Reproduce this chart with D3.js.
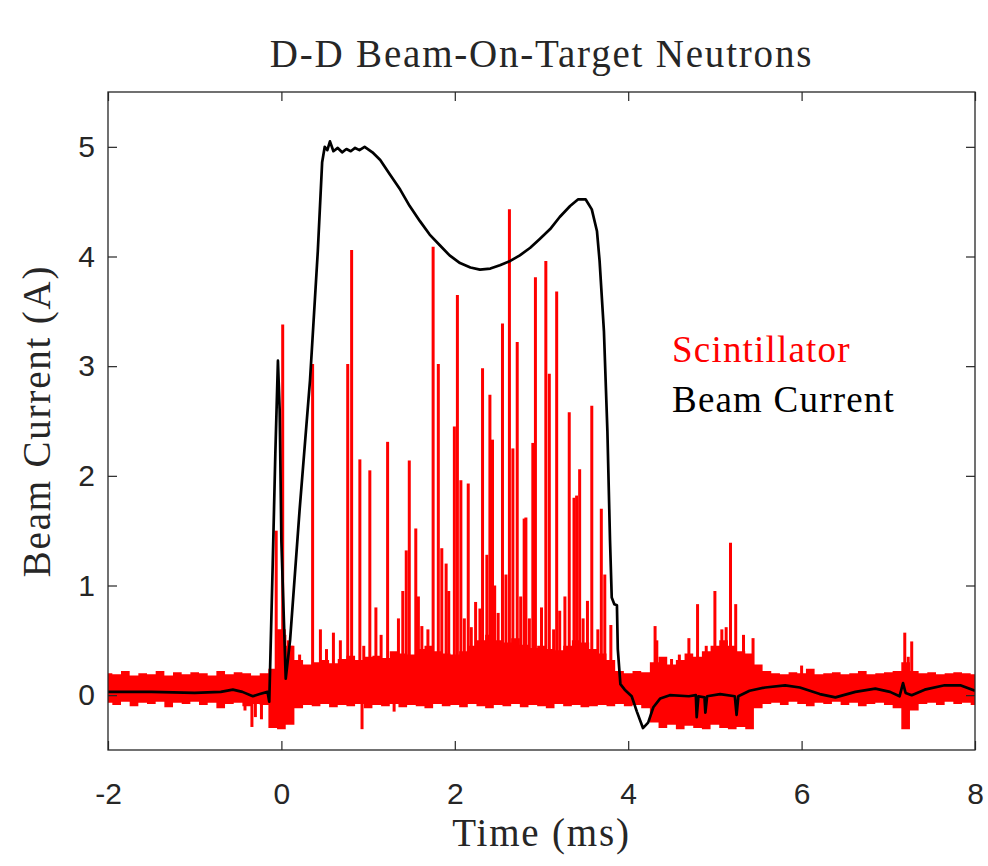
<!DOCTYPE html>
<html>
<head>
<meta charset="utf-8">
<script src="https://cdn.jsdelivr.net/npm/d3@7"></script>
<style>
  body { margin: 0; background: #fff; }
  .serif { font-family: "Liberation Serif", "Times New Roman", serif; }
  .tick text { font-family: "Liberation Sans", Arial, sans-serif; }
</style>
</head>
<body>
<div id="chart"></div>
<script>
// beam current trace (A)
var beamTime = [-2.0, -1.5, -1.0, -0.7, -0.56, -0.45, -0.33, -0.25, -0.16, -0.14, -0.1, -0.07, -0.04, -0.02, 0.0, 0.02, 0.05,
  0.1, 0.21, 0.33, 0.42, 0.47, 0.5, 0.53, 0.56, 0.6, 0.65, 0.7, 0.75, 0.8, 0.85, 0.9, 0.96, 1.05, 1.14, 1.25, 1.37, 1.48,
  1.6, 1.71, 1.83, 1.94, 2.06, 2.18, 2.29, 2.41, 2.52, 2.64, 2.75, 2.87, 2.98, 3.1, 3.21, 3.33, 3.42, 3.51, 3.58, 3.64,
  3.67, 3.72, 3.76, 3.79, 3.81, 3.84, 3.87, 3.88, 3.91, 3.96, 4.04, 4.1, 4.17, 4.23, 4.29, 4.37, 4.48, 4.7, 4.78, 4.79,
  4.81, 4.88, 4.89, 4.91, 5.06, 5.23, 5.25, 5.27, 5.4, 5.58, 5.81, 5.98, 6.21, 6.39, 6.62, 6.85, 7.02, 7.13, 7.17, 7.2,
  7.27, 7.42, 7.65, 7.83, 8.0];
var beamValue = [0.03, 0.03, 0.02, 0.03, 0.05, 0.03, -0.01, 0.01, 0.03, -0.06, 1.2, 2.2, 3.05, 2.6, 1.4, 0.9, 0.15,
  0.5, 1.69, 2.87, 4.05, 4.86, 5.0, 4.97, 5.05, 4.96, 4.99, 4.95, 4.98, 4.96, 4.99, 4.97, 5.0, 4.95, 4.88, 4.75, 4.61, 4.46,
  4.32, 4.2, 4.1, 4.01, 3.94, 3.9, 3.88, 3.89, 3.92, 3.96, 4.01, 4.08, 4.16, 4.25, 4.36, 4.46, 4.52, 4.52, 4.43, 4.23,
  3.96, 3.32, 2.41, 1.42, 0.89, 0.83, 0.82, 0.42, 0.1, 0.05, -0.01, -0.15, -0.3, -0.25, -0.11, -0.03, 0.0, -0.01, 0.0, -0.2,
  -0.01, -0.02, -0.16, -0.01, 0.01, -0.01, -0.18, -0.01, 0.04, 0.07, 0.09, 0.07, 0.01, -0.02, 0.03, 0.06, 0.03, -0.01, 0.11, 0.02,
  0.0, 0.05, 0.09, 0.09, 0.04];

// scintillator noise band, sampled every 0.1 ms from -2 ms
var bandStart = -2, bandStep = 0.1;
var bandUpper = [0.20, 0.19, 0.22, 0.18, 0.20, 0.19, 0.22, 0.18, 0.21, 0.19, 0.21, 0.20, 0.18, 0.22, 0.19, 0.21, 0.20, 0.18, 0.20,
  0.24, 0.60, 0.45,
  0.32, 0.28, 0.30, 0.32, 0.29, 0.33, 0.36, 0.32, 0.35, 0.36, 0.34, 0.40, 0.38, 0.37, 0.42, 0.45, 0.40, 0.38, 0.37, 0.40,
  0.45, 0.50, 0.55, 0.50, 0.48, 0.52, 0.46, 0.43, 0.45, 0.42, 0.41, 0.45, 0.50, 0.48, 0.42, 0.38, 0.32,
  0.22, 0.20, 0.22, 0.21,
  0.30, 0.35, 0.28, 0.32, 0.38, 0.35, 0.40, 0.45, 0.50, 0.45, 0.40, 0.38,
  0.28, 0.22, 0.20, 0.19, 0.21, 0.20, 0.24, 0.19, 0.20, 0.21, 0.19, 0.20, 0.22, 0.19, 0.20, 0.21, 0.22, 0.30, 0.22, 0.20,
  0.21, 0.19, 0.20, 0.21, 0.20, 0.19];
var bandLower = [-0.07, -0.09, -0.06, -0.10, -0.07, -0.08, -0.06, -0.11, -0.07, -0.08, -0.06, -0.09, -0.07, -0.12, -0.08, -0.07, -0.10, -0.08, -0.09,
  -0.30, -0.31, -0.27,
  -0.12, -0.09, -0.10, -0.08, -0.11, -0.09, -0.10, -0.08, -0.12, -0.09, -0.10, -0.08, -0.11, -0.09, -0.10, -0.12, -0.08, -0.10, -0.09, -0.11,
  -0.08, -0.10, -0.12, -0.09, -0.10, -0.08, -0.11, -0.09, -0.10, -0.12, -0.08, -0.10, -0.09, -0.11, -0.10, -0.09, -0.10,
  -0.08, -0.10, -0.09, -0.12,
  -0.25, -0.30, -0.27, -0.31, -0.28, -0.30, -0.31, -0.27, -0.30, -0.31, -0.29, -0.31,
  -0.12, -0.08, -0.07, -0.09, -0.06, -0.08, -0.10, -0.07, -0.08, -0.06, -0.09, -0.07, -0.10, -0.08, -0.07, -0.09, -0.12, -0.31, -0.14, -0.08,
  -0.07, -0.09, -0.06, -0.08, -0.07, -0.09];

// scintillator pulses (ms, A)
var spikeTime = [-0.06, 0.015, 0.12, 0.21, 0.36, 0.6, 0.765, 0.81, 0.905, 0.95, 1.02, 1.09, 1.225, 1.44, 1.475, 1.55, 1.62,
  1.75, 1.81, 1.85, 1.9, 1.995, 2.03, 2.07, 2.155, 2.19, 2.29, 2.32, 2.37, 2.405, 2.435, 2.55, 2.63, 2.67, 2.72, 2.8, 2.82,
  2.9, 2.93, 3.05, 3.09, 3.175, 3.21, 3.32, 3.375, 3.405, 3.44, 3.53, 3.58, 3.73, 3.8,
  0.04, 0.08, 0.45, 0.52, 0.68, 1.15, 1.35, 1.4, 1.58, 1.69, 1.93, 2.11, 2.24, 2.46, 2.5, 2.59, 2.76, 2.86, 3.0, 3.14,
  3.27, 3.48, 3.65, 3.69,
  4.31, 4.33, 4.5, 4.59, 4.7, 4.8, 4.9, 5.0, 5.08, 5.13, 5.18, 5.24, 5.33, 5.44, 6.0, 7.19, 7.23, 7.27,
  -0.42, -0.34, -0.3, -0.23, 0.93, 1.3];
var spikeValue = [1.5, 3.38, 0.45, 0.37, 3.02, 0.57, 3.02, 4.06, 2.15, 0.45, 2.05, 0.8, 2.31, 1.32, 2.14, 1.52, 0.63,
  4.09, 3.02, 1.34, 1.2, 2.45, 3.65, 1.96, 1.93, 0.62, 0.79, 2.98, 1.28, 2.74, 2.33, 3.39, 4.43, 2.25, 3.22, 1.61, 1.62,
  2.3, 3.81, 3.96, 2.93, 3.68, 0.77, 2.58, 1.8, 1.82, 2.06, 0.86, 2.64, 1.1, 0.64,
  0.55, 0.5, 0.6, 0.42, 0.5, 0.55, 0.7, 0.95, 0.9, 0.6, 0.95, 0.7, 0.85, 1.0, 0.75, 1.1, 0.9, 0.7, 0.8, 0.6,
  0.9, 0.7, 0.6, 1.7,
  0.63, 0.5, 0.33, 0.37, 0.52, 0.83, 0.45, 0.95, 0.6, 0.62, 1.39, 0.83, 0.55, 0.52, 0.27, 0.57, 0.35, 0.49,
  -0.14, -0.29, -0.2, -0.22, -0.31, -0.15];

var xTicks = [-2, 0, 2, 4, 6, 8];
var yTicks = [0, 1, 2, 3, 4, 5];

var width = 988,
  height = 866;
var margin = { top: 92, right: 13, bottom: 116, left: 108 };
var w = width - margin.left - margin.right,
  h = height - margin.top - margin.bottom;

var x = d3.scaleLinear().domain([-2, 8]).range([0, w]);
var y = d3.scaleLinear().domain([-0.5, 5.5]).range([h, 0]);

var svg = d3.select('#chart')
  .append('svg')
  .attr('width', width)
  .attr('height', height);

var g = svg.append('g')
  .attr('transform', 'translate(' + margin.left + ',' + margin.top + ')');

g.append('clipPath')
  .attr('id', 'clip')
  .append('rect')
  .attr('width', w)
  .attr('height', h);

var plot = g.append('g').attr('clip-path', 'url(#clip)');

var band = bandUpper.map(function (u, i) {
  return { t: bandStart + i * bandStep, hi: u, lo: bandLower[i] };
});

plot.append('path')
  .datum(band)
  .attr('fill', '#ff0000')
  .attr('d', d3.area()
    .curve(d3.curveStep)
    .x(function (d) { return x(d.t); })
    .y0(function (d) { return y(d.lo); })
    .y1(function (d) { return y(d.hi); }));

var spikes = spikeTime.map(function (t, i) { return { t: t, v: spikeValue[i] }; });

plot.selectAll('.spike')
  .data(spikes)
  .enter()
  .append('line')
  .attr('class', 'spike')
  .attr('x1', function (d) { return x(d.t); })
  .attr('x2', function (d) { return x(d.t); })
  .attr('y1', function (d) { return y(d.v > 0 ? 0.15 : 0); })
  .attr('y2', function (d) { return y(d.v); })
  .attr('stroke', '#ff0000')
  .attr('stroke-width', 3);

var beam = beamTime.map(function (t, i) { return [t, beamValue[i]]; });

plot.append('path')
  .datum(beam)
  .attr('fill', 'none')
  .attr('stroke', '#000')
  .attr('stroke-width', 2.7)
  .attr('stroke-linejoin', 'round')
  .attr('d', d3.line()
    .x(function (d) { return x(d[0]); })
    .y(function (d) { return y(d[1]); }));

// axes box, ticks pointing inward on all four sides
var axisColor = '#262626';
var plain = function (d) { return String(d); };

function styleAxis(sel) {
  sel.select('.domain').remove();
  sel.selectAll('.tick line').attr('stroke', axisColor).attr('stroke-width', 1.2);
  sel.selectAll('.tick text').attr('fill', axisColor).attr('font-size', 30);
}

g.append('g')
  .attr('transform', 'translate(0,' + h + ')')
  .call(d3.axisBottom(x).tickValues(xTicks).tickFormat(plain).tickSizeInner(-9).tickSizeOuter(0).tickPadding(33))
  .call(styleAxis);

g.append('g')
  .call(d3.axisTop(x).tickValues(xTicks).tickSizeInner(-9).tickSizeOuter(0).tickFormat(''))
  .call(styleAxis);

g.append('g')
  .call(d3.axisLeft(y).tickValues(yTicks).tickFormat(plain).tickSizeInner(-9).tickSizeOuter(0).tickPadding(13))
  .call(styleAxis);

g.append('g')
  .attr('transform', 'translate(' + w + ',0)')
  .call(d3.axisRight(y).tickValues(yTicks).tickSizeInner(-9).tickSizeOuter(0).tickFormat(''))
  .call(styleAxis);

g.append('rect')
  .attr('width', w)
  .attr('height', h)
  .attr('fill', 'none')
  .attr('stroke', axisColor)
  .attr('stroke-width', 1.3);

// titles
svg.append('text')
  .attr('class', 'serif')
  .attr('x', margin.left + w / 2)
  .attr('y', 67)
  .attr('text-anchor', 'middle')
  .attr('font-size', 39)
  .attr('letter-spacing', 1.8)
  .attr('fill', axisColor)
  .text('D-D Beam-On-Target Neutrons');

svg.append('text')
  .attr('class', 'serif')
  .attr('x', margin.left + w / 2)
  .attr('y', 846)
  .attr('text-anchor', 'middle')
  .attr('font-size', 39)
  .attr('letter-spacing', 1.8)
  .attr('fill', axisColor)
  .text('Time (ms)');

svg.append('text')
  .attr('class', 'serif')
  .attr('transform', 'translate(50,' + (margin.top + y(2.5)) + ') rotate(-90)')
  .attr('text-anchor', 'middle')
  .attr('font-size', 39)
  .attr('letter-spacing', 1.8)
  .attr('fill', axisColor)
  .text('Beam Current (A)');

// legend, text only
var legend = [
  { name: 'Scintillator', color: '#ff0000' },
  { name: 'Beam Current', color: '#000000' }
];

svg.selectAll('.legend')
  .data(legend)
  .enter()
  .append('text')
  .attr('class', 'serif legend')
  .attr('x', 672)
  .attr('y', function (d, i) { return 362 + i * 50; })
  .attr('font-size', 37)
  .attr('letter-spacing', 1.2)
  .attr('fill', function (d) { return d.color; })
  .text(function (d) { return d.name; });
</script>
</body>
</html>
